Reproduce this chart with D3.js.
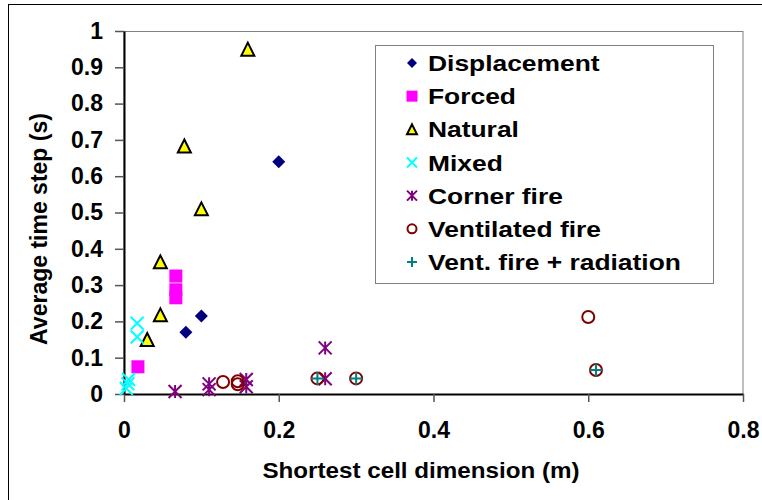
<!DOCTYPE html>
<html>
<head>
<meta charset="utf-8">
<title>Average time step vs cell dimension</title>
<script src="https://cdn.jsdelivr.net/npm/d3@7/dist/d3.min.js"></script>
<style>
  body { margin: 0; background: #fff; }
  text { font-family: "Liberation Sans", Arial, sans-serif; font-weight: bold; fill: #000; }
</style>
</head>
<body>
<svg id="chart" width="762" height="500"></svg>
<script>
// ---- data ----
const xTicks = [0, 0.2, 0.4, 0.6, 0.8];
const xTickLabels = ["0", "0.2", "0.4", "0.6", "0.8"];
const yTicks = [0, 0.1, 0.2, 0.3, 0.4, 0.5, 0.6, 0.7, 0.8, 0.9, 1];
const yTickLabels = ["0", "0.1", "0.2", "0.3", "0.4", "0.5", "0.6", "0.7", "0.8", "0.9", "1"];

const seriesNames = ["Displacement", "Forced", "Natural", "Mixed", "Corner fire", "Ventilated fire", "Vent. fire + radiation"];

const displacementX = [0.2, 0.08, 0.1];
const displacementY = [0.64, 0.17, 0.215];
const forcedX = [0.067, 0.067, 0.067, 0.018];
const forcedY = [0.325, 0.287, 0.265, 0.075];
const naturalX = [0.16, 0.078, 0.1, 0.047, 0.047, 0.03];
const naturalY = [0.95, 0.683, 0.51, 0.364, 0.218, 0.15];
const mixedX = [0.017, 0.017, 0.006, 0.005, 0.003];
const mixedY = [0.195, 0.157, 0.04, 0.028, 0.015];
const cornerX = [0.066, 0.11, 0.11, 0.158, 0.158, 0.26, 0.26];
const cornerY = [0.007, 0.028, 0.012, 0.04, 0.02, 0.127, 0.042];
const ventX = [0.128, 0.147, 0.147, 0.25, 0.3, 0.6, 0.61];
const ventY = [0.033, 0.035, 0.027, 0.043, 0.043, 0.212, 0.066];
const ventRadX = [0.25, 0.3, 0.61];
const ventRadY = [0.043, 0.043, 0.066];

const xTitle = "Shortest cell dimension (m)";
const yTitle = "Average time step (s)";

// ---- layout ----
const svg = d3.select('#chart');
const plot = { left: 124, top: 31, right: 743, bottom: 394 };

const x = d3.scaleLinear().domain([0, 0.8]).range([plot.left, plot.right]);
const y = d3.scaleLinear().domain([0, 1]).range([plot.bottom, plot.top]);

// outer chart frame (runs off the right/bottom of the picture)
svg.append('rect')
    .attr('x', 8.5).attr('y', 4.5).attr('width', 800).attr('height', 600)
    .attr('fill', 'none').attr('stroke', '#000').attr('stroke-width', 1);

// plot area frame
svg.append('rect')
    .attr('x', plot.left).attr('y', plot.top + 0.5)
    .attr('width', plot.right - plot.left).attr('height', plot.bottom - plot.top)
    .attr('fill', 'none').attr('stroke', '#808080').attr('stroke-width', 1);

// axes
const xAxis = d3.axisBottom(x).tickValues(xTicks).tickFormat((d, i) => xTickLabels[i])
    .tickSizeInner(8).tickSizeOuter(0).tickPadding(20);
const yAxis = d3.axisLeft(y).tickValues(yTicks).tickFormat((d, i) => yTickLabels[i])
    .tickSizeInner(9).tickSizeOuter(0).tickPadding(12);

const gx = svg.append('g').attr('transform', `translate(0,${plot.bottom})`).call(xAxis);
const gy = svg.append('g').attr('transform', `translate(${plot.left},0)`).call(yAxis);

[gx, gy].forEach(g => {
    g.select('.domain').attr('stroke', '#000').attr('stroke-width', 2);
    g.selectAll('.tick line').attr('stroke', '#555').attr('stroke-width', 1.5);
    g.selectAll('.tick text').attr('font-size', 23).attr('font-family', '"Liberation Sans", Arial, sans-serif')
        .attr('font-weight', 'bold').attr('fill', '#000');
});
gx.selectAll('.tick text').attr('dy', '0.71em');

// axis titles
svg.append('text')
    .attr('transform', `translate(421,478) scale(1.1,1)`)
    .attr('text-anchor', 'middle').attr('font-size', 22)
    .text(xTitle);
svg.append('text')
    .attr('transform', `translate(47,229) rotate(-90)`)
    .attr('text-anchor', 'middle').attr('font-size', 23)
    .text(yTitle);

// ---- marker shapes ----
function drawMarker(g, type, s) {
    const h = s / 2;
    if (type === 'diamond') {
        g.append('path').attr('d', `M0,${-h}L${h},0L0,${h}L${-h},0Z`).attr('fill', '#000080');
    } else if (type === 'square') {
        g.append('rect').attr('x', -h).attr('y', -h).attr('width', s).attr('height', s).attr('fill', '#FF00FF');
    } else if (type === 'triangle') {
        g.append('path').attr('d', `M0,${-h}L${h},${h}L${-h},${h}Z`)
            .attr('fill', '#FFFF00').attr('stroke', '#000').attr('stroke-width', 2).attr('stroke-linejoin', 'miter');
    } else if (type === 'x') {
        g.append('path').attr('d', `M${-h},${-h}L${h},${h}M${-h},${h}L${h},${-h}`)
            .attr('stroke', '#00FFFF').attr('stroke-width', 2).attr('fill', 'none');
    } else if (type === 'star') {
        g.append('path').attr('d', `M${-h},${-h}L${h},${h}M${-h},${h}L${h},${-h}M0,${-h}L0,${h}`)
            .attr('stroke', '#800080').attr('stroke-width', 2).attr('fill', 'none');
    } else if (type === 'circle') {
        g.append('circle').attr('r', h - 1).attr('fill', 'none')
            .attr('stroke', '#800000').attr('stroke-width', 2);
    } else if (type === 'plus') {
        g.append('path').attr('d', `M${-h},0L${h},0M0,${-h}L0,${h}`)
            .attr('stroke', '#008080').attr('stroke-width', 2).attr('fill', 'none');
    }
}

const series = [
    { xs: displacementX, ys: displacementY, type: 'diamond', size: 13 },
    { xs: forcedX, ys: forcedY, type: 'square', size: 13 },
    { xs: naturalX, ys: naturalY, type: 'triangle', size: 13 },
    { xs: mixedX, ys: mixedY, type: 'x', size: 13 },
    { xs: cornerX, ys: cornerY, type: 'star', size: 13 },
    { xs: ventX, ys: ventY, type: 'circle', size: 14 },
    { xs: ventRadX, ys: ventRadY, type: 'plus', size: 13 }
];

const marks = svg.append('g');
series.forEach(s => {
    s.xs.forEach((v, i) => {
        const g = marks.append('g').attr('transform', `translate(${x(v)},${y(s.ys[i])})`);
        drawMarker(g, s.type, s.size);
    });
});

// ---- legend ----
const legend = svg.append('g');
legend.append('rect')
    .attr('x', 375.5).attr('y', 45.5).attr('width', 338).attr('height', 238)
    .attr('fill', '#fff').attr('stroke', '#808080').attr('stroke-width', 1);

const legendY = d3.scalePoint().domain(seriesNames).range([63, 262]);
const legendSize = [10, 11, 10, 10, 10, 11, 10];
seriesNames.forEach((name, i) => {
    const g = legend.append('g').attr('transform', `translate(412,${legendY(name)})`);
    drawMarker(g, series[i].type, legendSize[i]);
    legend.append('text')
        .attr('transform', `translate(428,${legendY(name) + 8}) scale(1.2,1)`)
        .attr('font-size', 22)
        .text(name);
});
</script>
</body>
</html>
